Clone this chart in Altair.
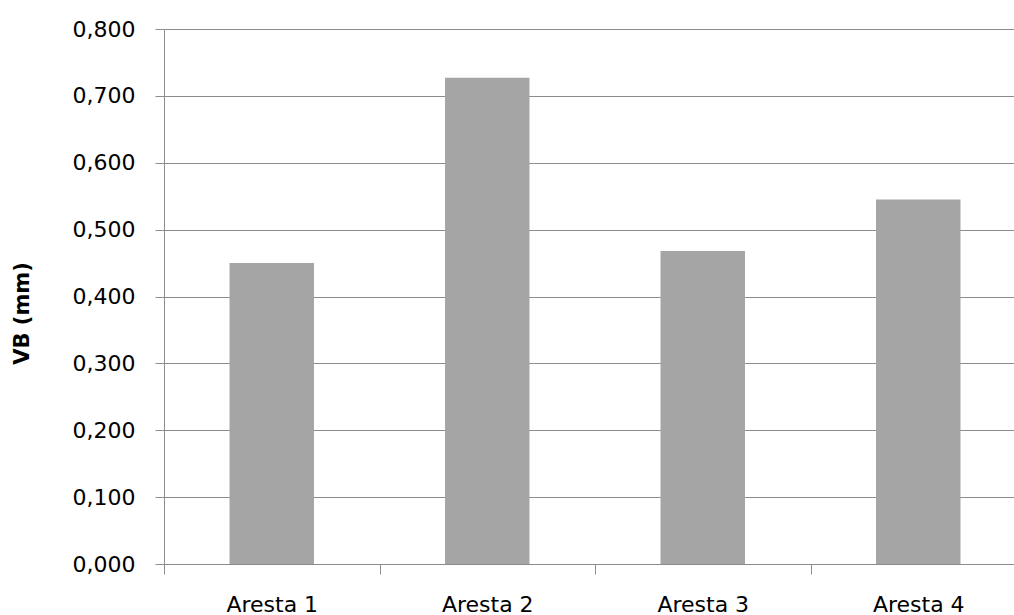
import altair as alt
import pandas as pd

# Flank wear (VB) measured on each cutting edge
arestas = ["Aresta 1", "Aresta 2", "Aresta 3", "Aresta 4"]
vb_mm = [0.450, 0.727, 0.468, 0.545]
y_ticks = [0.0, 0.1, 0.2, 0.3, 0.4, 0.5, 0.6, 0.7, 0.8]

df = pd.DataFrame({"aresta": arestas, "vb": vb_mm})

FONT = "DejaVu Sans"
LINE = "#8c8c8c"

bars = alt.Chart(df).mark_bar(
    color="#a5a5a5",
    width={"band": 0.392},
).encode(
    x=alt.X(
        "aresta:N",
        sort=arestas,
        title=None,
        scale=alt.Scale(range=[0, 862], paddingInner=0, paddingOuter=0),
        axis=alt.Axis(
            labelAngle=0,
            labelFont=FONT,
            labelFontSize=22,
            labelColor="#000000",
            labelBaseline="alphabetic",
            labelPadding=37,
            tickBand="extent",
            tickSize=10,
            tickColor=LINE,
            domainColor=LINE,
            domainWidth=1,
            grid=False,
        ),
    ),
    y=alt.Y(
        "vb:Q",
        title="VB (mm)",
        scale=alt.Scale(domain=[0, 0.8], nice=False, zero=True),
        axis=alt.Axis(
            values=y_ticks,
            labelExpr="replace(format(datum.value, '.3f'), '.', ',')",
            labelFont=FONT,
            labelFontSize=22,
            labelColor="#000000",
            labelPadding=20,
            tickSize=9,
            tickColor=LINE,
            domainColor=LINE,
            gridColor=LINE,
            gridWidth=1,
            titleFont=FONT,
            titleFontSize=21,
            titleFontWeight="bold",
            titleColor="#000000",
            titleX=-136,
            titleY=284,
            titleBaseline="alphabetic",
            titleAlign="center",
        ),
    ),
)

chart = bars.properties(
    width=850,
    height=535,
    padding={"left": 164, "top": 29, "right": 0, "bottom": 51},
    autosize=alt.AutoSizeParams(type="none"),
    background="#ffffff",
).configure_view(stroke=None)

chart.save("out.html", embed_options={"renderer": "svg", "actions": False})
